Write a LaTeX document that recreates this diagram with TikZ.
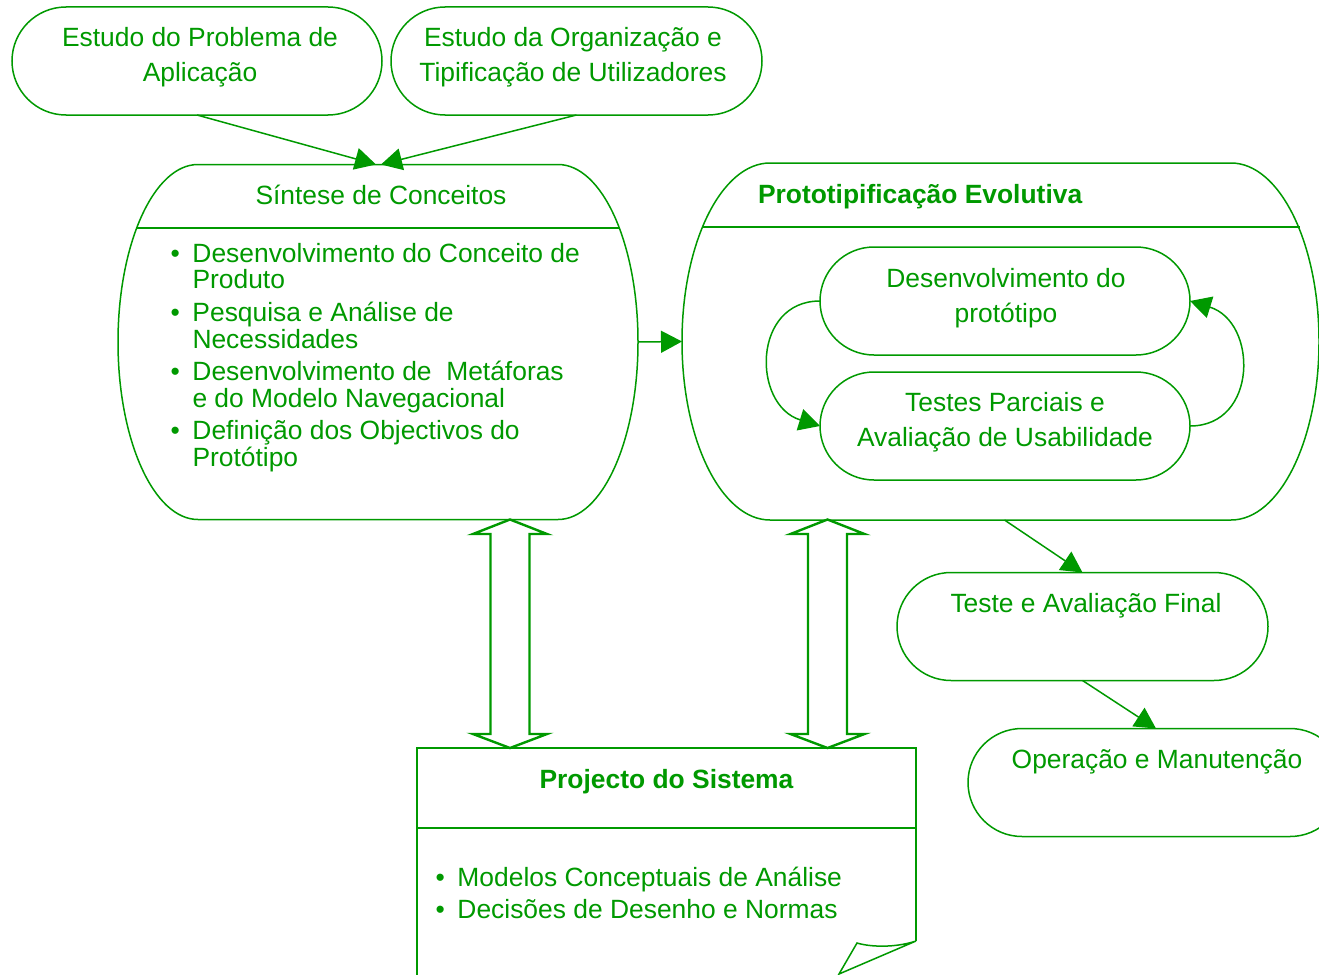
\documentclass[tikz,border=0pt]{standalone}
\usepackage{fontspec}
\setmainfont{Liberation Sans}
\usetikzlibrary{arrows.meta,calc}
\definecolor{grn}{RGB}{0,153,0}
\newcommand\ctext[1]{\begin{tabular}[t]{@{}c@{}}#1\end{tabular}}
\newcommand\bul{\makebox[22pt][l]{\textbullet}}
\newcommand\dblarr[2]{\draw[blk] (#1) -- ($(#1)+(37,14.5)$) -- ($(#1)+(19.5,14.5)$) -- ($(#2)+(19.5,-14)$) -- ($(#2)+(37,-14)$) -- (#2) -- ($(#2)+(-37,-14)$) -- ($(#2)+(-19.5,-14)$) -- ($(#1)+(-19.5,14.5)$) -- ($(#1)+(-37,14.5)$) -- cycle;}
\begin{document}
\begin{tikzpicture}[x=1pt,y=-1pt,line width=1.5pt,grn,
  every node/.style={text=grn,inner sep=0pt,outer sep=0pt},
  stad/.style={draw,rounded corners=54pt,minimum width=#1,minimum height=108pt},
  txt/.style={anchor=base,font=\fontsize{26.4}{35}\selectfont},
  btxt/.style={font=\fontsize{26.4}{35}\selectfont\bfseries},
  arr/.style={-{Triangle[length=21pt,width=22pt]}},
  blk/.style={line width=2.4pt,line join=miter}]
\useasboundingbox (0,0) rectangle (1319,974);
\clip (0,0) rectangle (1319,974);
% top boxes
\node[stad=370pt] (A) at (197,61) {};
\node[stad=371pt] (B) at (576.5,61) {};
\node[txt] at (200,47) {\ctext{Estudo do Problema de\\Aplicação}};
\node[txt] at (573,47) {\ctext{Estudo da Organização e\\Tipificação de Utilizadores}};
% Sintese
\node[minimum width=520pt,minimum height=355pt] (S) at (378,342) {};
\draw (198,164.5) -- (558,164.5) arc[start angle=-90,end angle=90,x radius=80,y radius=177.5]
  -- (198,519.5) arc[start angle=90,end angle=270,x radius=80,y radius=177.5] -- cycle;
\draw (136.7,228) -- (619.3,228);
\node[txt] at (381,204) {Síntese de Conceitos};
\node[anchor=base west,font=\fontsize{26.4}{26}\selectfont] at (170.5,262) {\begin{tabular}[t]{@{}l@{}l@{}}
\bul&Desenvolvimento do Conceito de\\
&Produto\\[5pt]
\bul&Pesquisa e Análise de\\
&Necessidades\\[5pt]
\bul&Desenvolvimento de\ \ Metáforas\\
&e do Modelo Navegacional\\[5pt]
\bul&Definição dos Objectivos do\\
&Protótipo
\end{tabular}};
% Prototipificacao
\node[minimum width=637pt,minimum height=357pt] (P) at (1000.5,341.5) {};
\draw (770,163) -- (1231,163) arc[start angle=-90,end angle=90,x radius=88,y radius=178.5]
  -- (770,520) arc[start angle=90,end angle=270,x radius=88,y radius=178.5] -- cycle;
\draw (702.5,227) -- (1299.5,227);
\node[btxt,anchor=base west] at (758,203) {Prototipificação Evolutiva};
\node[stad=370pt] (D) at (1005,301) {};
\node[stad=370pt] (T) at (1005,426) {};
\node[txt] at (1006,287) {\ctext{Desenvolvimento do\\protótipo}};
\node[txt] at (1005,411) {\ctext{Testes Parciais e\\Avaliação de Usabilidade}};
% final stages
\node[stad=371pt] (F) at (1082.5,626.5) {};
\node[txt] at (1086,612) {Teste e Avaliação Final};
\node[stad=376pt] (O) at (1156,782.5) {};
\node[txt] at (1157,768) {Operação e Manutenção};
% Projecto do Sistema
\node[minimum width=499pt,minimum height=240pt,anchor=north] (PS) at (666.5,748) {};
\draw (916,941) -- (916,748) -- (417,748) -- (417,985);
\draw (417,828) -- (916,828);
\draw (916,941) .. controls (895,948) and (870,947) .. (857,943) -- (839,974) -- cycle;
\node[btxt,anchor=base] at (666.5,788) {Projecto do Sistema};
\node[anchor=base west,font=\fontsize{26.4}{32}\selectfont] at (435.5,886) {\begin{tabular}[t]{@{}l@{}l@{}}
\bul&Modelos Conceptuais de Análise\\
\bul&Decisões de Desenho e Normas
\end{tabular}};
% connectors
\draw[arr] (A.south) -- ([xshift=-2pt]S.north);
\draw[arr] (B.south) -- ([xshift=3pt]S.north);
\draw[arr] (S.east) -- (P.west);
\draw[arr] ([xshift=4pt]P.south) -- (F.north);
\draw[arr] (F.south) -- (O.north);
\draw[arr] (D.west) .. controls +(-68,0) and +(-68,-21) .. (T.west);
\draw[arr] (T.east) .. controls +(68,0) and +(68,21) .. (D.east);
\coordinate (L1) at (510,519.5);
\coordinate (L2) at (510,748);
\coordinate (R1) at (827.5,519.5);
\coordinate (R2) at (827.5,748);
\dblarr{L1}{L2}
\dblarr{R1}{R2}
\end{tikzpicture}
\end{document}
